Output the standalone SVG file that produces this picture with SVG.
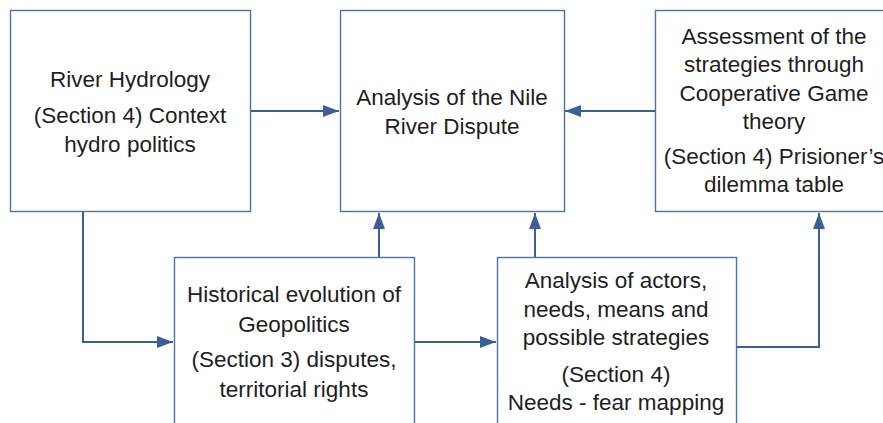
<svg xmlns="http://www.w3.org/2000/svg" width="883" height="423" viewBox="0 0 883 423">
<style>
.box{fill:#ffffff;stroke:#4d71a9;stroke-width:1.4}
.t{font-family:"Liberation Sans",Arial,sans-serif;font-size:22.5px;fill:#1e1e1e;text-anchor:middle}
.c{fill:none;stroke:#3b5f96;stroke-width:2}
</style>
<defs>
<marker id="ah" viewBox="0 0 16 12" refX="16" refY="6" markerWidth="16" markerHeight="12" markerUnits="userSpaceOnUse" orient="auto">
<path d="M0,0 L16,6 L0,12 Z" fill="#3b5f96"/>
</marker>
</defs>
<rect width="883" height="423" fill="#ffffff"/>
<g id="connectors">
<path class="c" d="M250,111 L339,111" marker-end="url(#ah)"/>
<path class="c" d="M655,111 L565,111" marker-end="url(#ah)"/>
<path class="c" d="M83,212 L83,342 L173,342" marker-end="url(#ah)"/>
<path class="c" d="M379,257 L379,213" marker-end="url(#ah)"/>
<path class="c" d="M414,342 L496,342" marker-end="url(#ah)"/>
<path class="c" d="M535,257 L535,213" marker-end="url(#ah)"/>
<path class="c" d="M736,347 L819,347 L819,213" marker-end="url(#ah)"/>
</g>
<g id="river-hydrology">
<rect class="box" x="10.5" y="10.5" width="240" height="201"/>
<text class="t" x="130" y="87">River Hydrology</text>
<text class="t" x="130" y="123">(Section 4) Context</text>
<text class="t" x="130" y="152">hydro politics</text>
</g>
<g id="nile-dispute">
<rect class="box" x="340.5" y="10.5" width="224" height="201"/>
<text class="t" x="452" y="105">Analysis of the Nile</text>
<text class="t" x="452" y="134">River Dispute</text>
</g>
<g id="assessment">
<rect class="box" x="655.5" y="10.5" width="240" height="201"/>
<text class="t" x="774" y="44">Assessment of the</text>
<text class="t" x="774" y="72">strategies through</text>
<text class="t" x="774" y="101">Cooperative Game</text>
<text class="t" x="774" y="129">theory</text>
<text class="t" x="774" y="164">(Section 4) Prisioner’s</text>
<text class="t" x="774" y="192">dilemma table</text>
</g>
<g id="historical">
<rect class="box" x="174.5" y="257.5" width="240" height="190"/>
<text class="t" x="294" y="302">Historical evolution of</text>
<text class="t" x="294" y="332">Geopolitics</text>
<text class="t" x="294" y="367">(Section 3) disputes,</text>
<text class="t" x="294" y="397">territorial rights</text>
</g>
<g id="actors">
<rect class="box" x="497.5" y="257.5" width="239" height="190"/>
<text class="t" x="616" y="288">Analysis of actors,</text>
<text class="t" x="616" y="317">needs, means and</text>
<text class="t" x="616" y="345">possible strategies</text>
<text class="t" x="616" y="382">(Section 4)</text>
<text class="t" x="616" y="410">Needs - fear mapping</text>
</g>
</svg>
